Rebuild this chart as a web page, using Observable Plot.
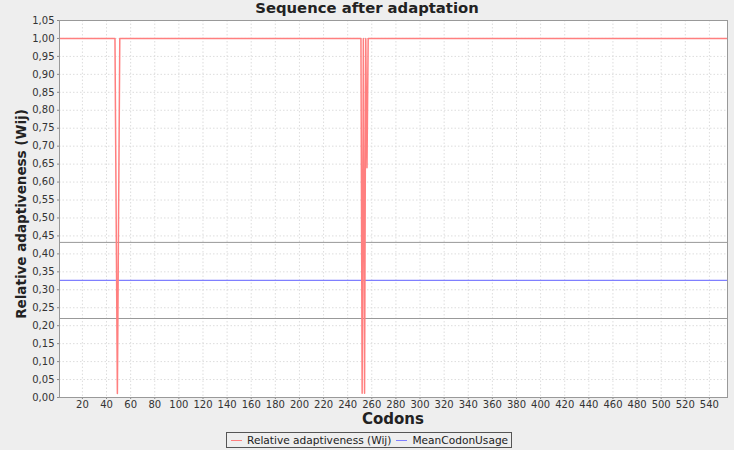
<!DOCTYPE html>
<html>
<head>
<meta charset="utf-8">
<script src="https://cdn.jsdelivr.net/npm/d3@7"></script>
<script src="https://cdn.jsdelivr.net/npm/@observablehq/plot@0.6"></script>
<style>
  html, body { margin: 0; padding: 0; background: #eeeeee; }
  #wrap { position: relative; width: 734px; height: 450px; overflow: hidden; font-family: "DejaVu Sans", sans-serif; }
  #chart { position: absolute; left: 0; top: 0; }
  .title { position: absolute; left: 0; width: 734px; top: -1px; text-align: center; font-weight: bold; font-size: 14.8px; color: #222; }
  .xlabel { position: absolute; left: 59px; width: 668px; top: 410px; text-align: center; font-weight: bold; font-size: 15px; color: #222; }
  .ylabel { position: absolute; left: 21px; top: 214px; transform: translate(-50%, -50%) rotate(-90deg); white-space: nowrap; font-weight: bold; font-size: 13.5px; color: #222; }
  .legend { position: absolute; left: 226px; top: 432px; height: 16px; border: 1px solid #555; box-sizing: border-box; display: flex; align-items: center; padding: 0 3px 0 4px; font-size: 10.6px; color: #222; white-space: nowrap; }
  .legend .sw { display: inline-block; width: 11px; height: 1px; margin-right: 5px; }
  .legend .item { display: inline-flex; align-items: center; margin-right: 5px; }
  .legend .item:last-child { margin-right: 0; }
</style>
</head>
<body>
<div id="wrap">
  <div class="title">Sequence after adaptation</div>
  <div id="chart"></div>
  <div class="xlabel">Codons</div>
  <div class="ylabel">Relative adaptiveness (Wij)</div>
  <div class="legend" id="legend"></div>
</div>
<script>
// Relative adaptiveness (Wij) line: codon positions where the line changes, and values
const wijCodons = [1, 47, 49, 51, 251, 252, 253, 254, 255, 256, 257, 555];
const wijValues = [1.0, 1.0, 0.011, 1.0, 1.0, 0.012, 1.0, 0.012, 1.0, 0.64, 1.0, 1.0];
// Mean codon usage
const meanCodonUsage = 0.326;
// Gray reference lines (upper / lower)
const grayLines = [0.432, 0.220];
// Tick labels
const xTicks = [20, 40, 60, 80, 100, 120, 140, 160, 180, 200, 220, 240, 260, 280, 300, 320, 340, 360, 380, 400, 420, 440, 460, 480, 500, 520, 540];
const yTicks = [0, 0.05, 0.1, 0.15, 0.2, 0.25, 0.3, 0.35, 0.4, 0.45, 0.5, 0.55, 0.6, 0.65, 0.7, 0.75, 0.8, 0.85, 0.9, 0.95, 1.0, 1.05];
const seriesNames = ["Relative adaptiveness (Wij)", "MeanCodonUsage"];
const seriesColors = ["#ff7f7f", "#7f7fff"];

const wij = wijCodons.map((c, i) => ({codon: c, value: wijValues[i]}));
const fmt = v => d3.format(".2f")(v).replace(".", ",");

const chart = Plot.plot({
  width: 734,
  height: 450,
  marginLeft: 59,
  marginRight: 7,
  marginTop: 20,
  marginBottom: 53,
  style: {background: "transparent", fontFamily: "DejaVu Sans, sans-serif", fontSize: "10px", color: "#333"},
  x: {domain: [1, 555], ticks: xTicks, label: null},
  y: {domain: [0, 1.05], ticks: yTicks, label: null},
  marks: [
    Plot.frame({fill: "white", stroke: null}),
    Plot.gridX(xTicks, {stroke: "#dddddd", strokeOpacity: 1, strokeDasharray: "1.5,2"}),
    Plot.gridY(yTicks, {stroke: "#dddddd", strokeOpacity: 1, strokeDasharray: "1.5,2"}),
    Plot.axisX(xTicks, {tickSize: 2, tickPadding: 1, stroke: "#888", fill: "#333"}),
    Plot.axisY(yTicks, {tickSize: 2, tickPadding: 3, stroke: "#888", fill: "#333", tickFormat: fmt}),
    Plot.ruleY(grayLines, {stroke: "#999999", strokeWidth: 1}),
    Plot.ruleY([meanCodonUsage], {stroke: seriesColors[1], strokeWidth: 1.3}),
    Plot.line(wij, {x: "codon", y: "value", stroke: seriesColors[0], strokeWidth: 1.5, clip: true}),
    Plot.frame({stroke: "#999999"})
  ]
});
document.getElementById("chart").appendChild(chart);

const legend = document.getElementById("legend");
seriesNames.forEach((n, i) => {
  const it = document.createElement("span");
  it.className = "item";
  const sw = document.createElement("span");
  sw.className = "sw";
  sw.style.backgroundColor = seriesColors[i];
  it.appendChild(sw);
  it.appendChild(document.createTextNode(n));
  legend.appendChild(it);
});
</script>
</body>
</html>
